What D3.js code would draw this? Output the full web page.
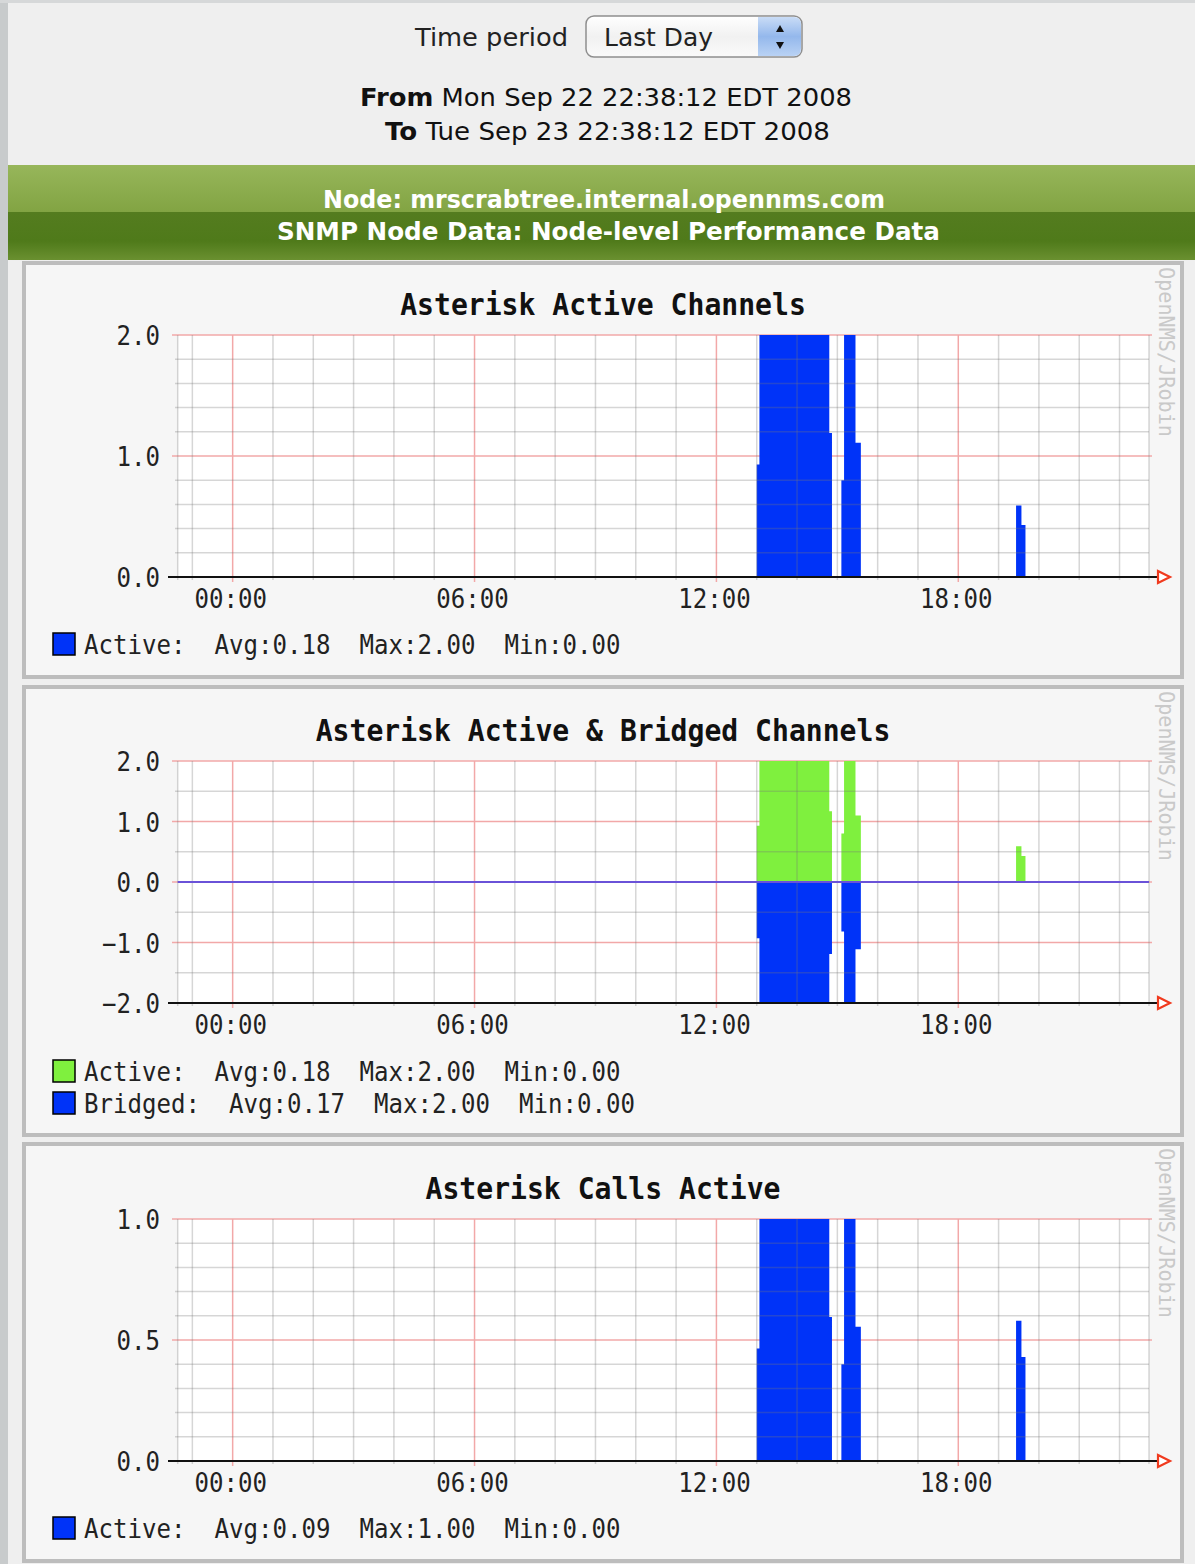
<!DOCTYPE html>
<html><head><meta charset="utf-8">
<script src="https://cdn.jsdelivr.net/npm/d3@7"></script>
<style>body{margin:0;background:#efefef}svg{display:block}</style>
</head><body><svg id="c" width="1195" height="1564"></svg>
<script>
// ---------- data ----------
const periodStart = "2008-09-22T22:38:12";
const periodEnd   = "2008-09-23T22:38:12";
const hourTickLabels = ["00:00", "06:00", "12:00", "18:00"];

// step change times on Tue Sep 23 (each value holds until the next time)
const stepTimes = ["13:00","13:04","14:48","14:52","15:06","15:10","15:27","15:35","19:26","19:34","19:40"];
const channelsActive = [0.93, 2.00, 1.19, 0, 0.80, 2.00, 1.11, 0, 0.59, 0.43, 0];
const bridgedActive  = [0.93, 2.00, 1.17, 0, 0.80, 2.00, 1.10, 0, 0.59, 0.43, 0];
const bridgedBridged = [0.93, 2.00, 1.19, 0, 0.82, 2.00, 1.11, 0, 0,    0,    0];
const callsActive    = [0.465, 1.00, 0.595, 0, 0.40, 1.00, 0.555, 0, 0.58, 0.43, 0];

const yTicksChannels = [0, 1, 2];
const yTicksBridged  = [-2, -1, 0, 1, 2];
const yTicksCalls    = [0, 0.5, 1];

const chartTitles = ["Asterisk Active Channels", "Asterisk Active & Bridged Channels", "Asterisk Calls Active"];
const legendChannels = [["Active:", "Avg:0.18", "Max:2.00", "Min:0.00"]];
const legendBridged  = [["Active:", "Avg:0.18", "Max:2.00", "Min:0.00"], ["Bridged:", "Avg:0.17", "Max:2.00", "Min:0.00"]];
const legendCalls    = [["Active:", "Avg:0.09", "Max:1.00", "Min:0.00"]];

// ---------- helpers ----------
const svg = d3.select("#c");
const parse = d3.timeParse("%Y-%m-%dT%H:%M:%S");
const t0 = parse(periodStart), t1 = parse(periodEnd);
const dayParse = s => parse("2008-09-23T" + s + ":00");
const BLUE = "#0033f8", GREEN = "#7ff03e";
const MONO = "DejaVu Sans Mono", SANS = "DejaVu Sans";
const CW = 14.5; // char width of legend/axis text

function series(vals, sign) {
  const pts = [{t: t0, v: 0}];
  stepTimes.forEach((s, i) => pts.push({t: dayParse(s), v: sign * vals[i]}));
  pts.push({t: t1, v: 0});
  return pts;
}

function monoText(g, x, y, str, opts) {
  opts = opts || {};
  const cw = opts.cw || CW;
  const t = g.append("text").attr("x", x).attr("y", y).text(str)
    .attr("font-family", MONO).attr("font-size", opts.size || 27)
    .attr("font-weight", opts.bold ? "bold" : "normal")
    .attr("fill", opts.fill || "#111")
    .attr("text-anchor", opts.anchor || "start")
    .attr("textLength", str.length * cw).attr("lengthAdjust", "spacingAndGlyphs");
  return t;
}

// ---------- page chrome ----------
svg.append("rect").attr("x", 0).attr("y", 0).attr("width", 1195).attr("height", 1564).attr("fill", "#efefef");
svg.append("rect").attr("x", 0).attr("y", 0).attr("width", 8).attr("height", 1564).attr("fill", "#c8cbcc");
svg.append("rect").attr("x", 0).attr("y", 0).attr("width", 1195).attr("height", 3).attr("fill", "#d6d8d9");

const defs = svg.append("defs");
const gg = defs.append("linearGradient").attr("id", "green").attr("x1", 0).attr("y1", 0).attr("x2", 0).attr("y2", 1);
[["0%", "#97b65a"], ["49%", "#82a443"], ["50%", "#547c1f"], ["80%", "#4f7a1a"], ["100%", "#6a9030"]]
  .forEach(([o, c]) => gg.append("stop").attr("offset", o).attr("stop-color", c));
const sg = defs.append("linearGradient").attr("id", "sel").attr("x1", 0).attr("y1", 0).attr("x2", 0).attr("y2", 1);
[["0%", "#ffffff"], ["50%", "#f1f1f1"], ["100%", "#fafafa"]].forEach(([o, c]) => sg.append("stop").attr("offset", o).attr("stop-color", c));
const bg = defs.append("linearGradient").attr("id", "selb").attr("x1", 0).attr("y1", 0).attr("x2", 0).attr("y2", 1);
[["0%", "#c9dcf6"], ["50%", "#94b8ec"], ["100%", "#b9d2f4"]].forEach(([o, c]) => bg.append("stop").attr("offset", o).attr("stop-color", c));

// header
svg.append("text").attr("x", 415).attr("y", 46).text("Time period")
  .attr("font-family", SANS).attr("font-size", 25).attr("fill", "#222")
  .attr("textLength", 153).attr("lengthAdjust", "spacingAndGlyphs");
svg.append("rect").attr("x", 586).attr("y", 16).attr("width", 216).attr("height", 41).attr("rx", 8)
  .attr("fill", "url(#sel)").attr("stroke", "#8e8e8e").attr("stroke-width", 1.5);
svg.append("path").attr("d", "M758,17 H794 Q801,17 801,25 V48 Q801,56 794,56 H758 Z").attr("fill", "url(#selb)");
svg.append("path").attr("d", "M776,32 L780,25 L784,32 Z").attr("fill", "#111");
svg.append("path").attr("d", "M776,42 L780,49 L784,42 Z").attr("fill", "#111");
svg.append("text").attr("x", 604).attr("y", 46).text("Last Day")
  .attr("font-family", SANS).attr("font-size", 25).attr("fill", "#222")
  .attr("textLength", 109).attr("lengthAdjust", "spacingAndGlyphs");

const fromT = svg.append("text").attr("x", 360).attr("y", 106).attr("font-family", SANS).attr("font-size", 25).attr("fill", "#111")
  .attr("textLength", 492).attr("lengthAdjust", "spacingAndGlyphs");
fromT.append("tspan").attr("font-weight", "bold").text("From");
fromT.append("tspan").text(" Mon Sep 22 22:38:12 EDT 2008");
const toT = svg.append("text").attr("x", 385).attr("y", 140).attr("font-family", SANS).attr("font-size", 25).attr("fill", "#111")
  .attr("textLength", 445).attr("lengthAdjust", "spacingAndGlyphs");
toT.append("tspan").attr("font-weight", "bold").text("To");
toT.append("tspan").text(" Tue Sep 23 22:38:12 EDT 2008");

svg.append("rect").attr("x", 8).attr("y", 165).attr("width", 1187).attr("height", 95).attr("fill", "url(#green)");
svg.append("text").attr("x", 323).attr("y", 208).text("Node: mrscrabtree.internal.opennms.com")
  .attr("font-family", SANS).attr("font-weight", "bold").attr("font-size", 25).attr("fill", "#fff")
  .attr("textLength", 562).attr("lengthAdjust", "spacingAndGlyphs");
svg.append("text").attr("x", 277).attr("y", 240).text("SNMP Node Data: Node-level Performance Data")
  .attr("font-family", SANS).attr("font-weight", "bold").attr("font-size", 25).attr("fill", "#fff")
  .attr("textLength", 663).attr("lengthAdjust", "spacingAndGlyphs");

// ---------- charts ----------
const charts = [
  {panel: [263, 677], title: chartTitles[0], top: 335, bottom: 577, domain: [0, 2], ticks: yTicksChannels, minor: 0.2, major: 1,
   fmt: d3.format(".1f"), areas: [{vals: channelsActive, sign: 1, color: BLUE}], legend: legendChannels, legendColors: [BLUE],
   legendY: 644, zeroLine: false},
  {panel: [687, 1135], title: chartTitles[1], top: 761, bottom: 1003, domain: [-2, 2], ticks: yTicksBridged, minor: 0.5, major: 1,
   fmt: d3.format(".1f"), areas: [{vals: bridgedActive, sign: 1, color: GREEN}, {vals: bridgedBridged, sign: -1, color: BLUE}],
   legend: legendBridged, legendColors: [GREEN, BLUE], legendY: 1071, zeroLine: true},
  {panel: [1144, 1561], title: chartTitles[2], top: 1219, bottom: 1461, domain: [0, 1], ticks: yTicksCalls, minor: 0.1, major: 0.5,
   fmt: d3.format(".1f"), areas: [{vals: callsActive, sign: 1, color: BLUE}], legend: legendCalls, legendColors: [BLUE],
   legendY: 1528, zeroLine: false}
];

const x = d3.scaleTime().domain([t0, t1]).range([177.7, 1145.2]);
const plotL = 177.7, plotR = 1149;

charts.forEach(c => {
  const g = svg.append("g");
  // panel
  g.append("rect").attr("x", 24).attr("y", c.panel[0]).attr("width", 1158).attr("height", c.panel[1] - c.panel[0])
    .attr("fill", "#f6f6f6").attr("stroke", "#bdbdbd").attr("stroke-width", 4);
  // watermark
  const wx = 1159, wy = c.panel[0] + 4;
  g.append("text").attr("transform", `translate(${wx},${wy}) rotate(90)`).text("OpenNMS/JRobin")
    .attr("font-family", MONO).attr("font-size", 21).attr("fill", "#c9c9c9")
    .attr("textLength", 170).attr("lengthAdjust", "spacingAndGlyphs");
  // title
  monoText(g, 603, c.top - 20, c.title, {size: 30, bold: true, cw: 16.9, anchor: "middle"});

  const y = d3.scaleLinear().domain(c.domain).range([c.bottom, c.top]);
  // plot background
  g.append("rect").attr("x", plotL).attr("y", c.top).attr("width", plotR - plotL).attr("height", c.bottom - c.top).attr("fill", "#fff");

  // major grid (under)
  const nMajor = Math.round((c.domain[1] - c.domain[0]) / c.major);
  for (let i = 0; i <= nMajor; i++) {
    const v = c.domain[0] + i * c.major;
    if (Math.abs(v - c.domain[0]) < 1e-9) continue;
    g.append("line").attr("x1", 172).attr("x2", plotR + 3).attr("y1", y(v)).attr("y2", y(v))
      .attr("stroke", "#f2a8a8").attr("stroke-width", 1.5);
  }
  const hours = d3.timeHour.range(t0, t1);
  hours.filter(h => h.getHours() % 6 === 0).forEach(h => {
    g.append("line").attr("x1", x(h)).attr("x2", x(h)).attr("y1", c.top).attr("y2", c.bottom + 5)
      .attr("stroke", "#f2a8a8").attr("stroke-width", 1.5);
  });

  // areas
  c.areas.forEach(a => {
    const area = d3.area().curve(d3.curveStepAfter).x(d => x(d.t)).y0(y(0)).y1(d => y(d.v));
    g.append("path").datum(series(a.vals, a.sign)).attr("d", area).attr("fill", a.color);
  });

  // minor grid (over)
  const nMinor = Math.round((c.domain[1] - c.domain[0]) / c.minor);
  for (let i = 1; i <= nMinor; i++) {
    const v = c.domain[0] + i * c.minor;
    if (Math.abs(v / c.major - Math.round(v / c.major)) < 1e-6) continue;
    g.append("line").attr("x1", 175).attr("x2", plotR).attr("y1", y(v)).attr("y2", y(v))
      .attr("stroke", "rgba(120,120,120,0.3)").attr("stroke-width", 1.5);
  }
  hours.filter(h => h.getHours() % 6 !== 0).forEach(h => {
    g.append("line").attr("x1", x(h)).attr("x2", x(h)).attr("y1", c.top).attr("y2", c.bottom + 3)
      .attr("stroke", "rgba(120,120,120,0.3)").attr("stroke-width", 1.5);
  });
  [plotL, plotR].forEach(px => g.append("line").attr("x1", px).attr("x2", px).attr("y1", c.top).attr("y2", c.bottom + 3)
      .attr("stroke", "rgba(120,120,120,0.3)").attr("stroke-width", 1.5));

  if (c.zeroLine) {
    g.append("line").attr("x1", plotL).attr("x2", plotR).attr("y1", y(0)).attr("y2", y(0))
      .attr("stroke", "#6a52d8").attr("stroke-width", 2);
  }

  // x axis
  g.append("line").attr("x1", 168).attr("x2", 1158).attr("y1", c.bottom).attr("y2", c.bottom)
    .attr("stroke", "#111").attr("stroke-width", 2);
  g.append("path").attr("d", `M1158,${c.bottom - 6} L1170,${c.bottom} L1158,${c.bottom + 6} Z`)
    .attr("fill", "#fff").attr("stroke", "#f03a1e").attr("stroke-width", 2.2);
  const labelled = hours.filter(h => h.getHours() % 6 === 0);
  labelled.forEach((h, i) => monoText(g, x(h) - 2, c.bottom + 31, hourTickLabels[i], {anchor: "middle", fill: "#222"}));

  // y labels
  c.ticks.forEach(v => monoText(g, 160, y(v) + 10, c.fmt(v), {anchor: "end", fill: "#222"}));

  // legend
  c.legend.forEach((row, r) => {
    const ly = c.legendY + r * 32;
    g.append("rect").attr("x", 53).attr("y", ly - 11).attr("width", 22).attr("height", 22)
      .attr("fill", c.legendColors[r]).attr("stroke", "#000").attr("stroke-width", 1.5);
    let col = 0;
    row.forEach(s => {
      monoText(g, 84 + col * CW, ly + 10, s, {fill: "#222"});
      col += s.length + 2;
    });
  });
});
</script></body></html>
